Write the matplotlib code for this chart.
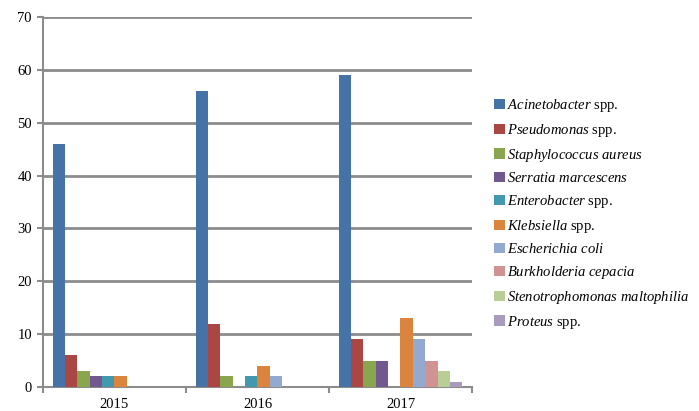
import matplotlib
matplotlib.use("Agg")
import matplotlib.pyplot as plt
import numpy as np

years = ["2015", "2016", "2017"]
species = ["Acinetobacter", "Pseudomonas", "Staphylococcus aureus", "Serratia marcescens",
           "Enterobacter", "Klebsiella", "Escherichia coli", "Burkholderia cepacia",
           "Stenotrophomonas maltophilia", "Proteus"]
spp = [True, True, False, False, True, True, False, False, False, True]
counts = [
    [46, 56, 59],
    [6, 12, 9],
    [3, 2, 5],
    [2, 0, 5],
    [2, 2, 0],
    [2, 4, 13],
    [0, 2, 9],
    [0, 0, 5],
    [0, 0, 3],
    [0, 0, 1],
]
colors = ["#4572A7", "#AA4643", "#89A54E", "#71588F", "#4198AF",
          "#DB843D", "#93A9CF", "#D19392", "#B9CD96", "#A99BBD"]

plt.rcParams['font.family'] = ['Liberation Serif', 'DejaVu Serif']
plt.rcParams['mathtext.fontset'] = 'custom'
plt.rcParams['mathtext.it'] = 'Liberation Serif:italic'
plt.rcParams['mathtext.rm'] = 'Liberation Serif'

fig = plt.figure(figsize=(6.99, 4.11), dpi=100)
ax = fig.add_axes([0.0615, 0.0584, 0.6137, 0.9002])

n = len(species)
gap = 1.55
width = 1.0 / (n + gap)
x = np.arange(len(years))
grid_c = "#8c8c8c"

handles = []
for i in range(n):
    offs = (i - (n - 1) / 2) * width
    b = ax.bar(x + offs, counts[i], width, color=colors[i], zorder=3, linewidth=0)
    handles.append(b)

labels = []
for name, s in zip(species, spp):
    lab = r"$\it{" + name.replace(" ", r"\ ") + "}$"
    if s:
        lab += " spp."
    labels.append(lab)

ax.set_xlim(-0.5, len(years) - 0.5)
ax.set_ylim(0, 70)
ax.set_yticks(np.arange(0, 71, 10))
ax.set_xticks(x)
ax.set_xticklabels(years)
ax.set_xticks(np.arange(-0.5, len(years), 1), minor=True)
ax.yaxis.grid(True, color=grid_c, linewidth=2, zorder=0)
ax.set_axisbelow(True)

for side in ["top", "right"]:
    ax.spines[side].set_visible(False)
for side in ["left", "bottom"]:
    ax.spines[side].set_color(grid_c)
    ax.spines[side].set_linewidth(1.5)
ax.tick_params(axis='y', length=4, color=grid_c, width=1.5, labelsize=10.5, pad=4)
ax.tick_params(axis='x', which='major', length=0, labelsize=10.5, pad=8)
ax.tick_params(axis='x', which='minor', length=4, color=grid_c, width=1.5)

fig.legend(handles, labels, loc='upper left', bbox_to_anchor=(0.699, 0.778),
           frameon=False, fontsize=10.5, handlelength=0.7, handleheight=0.7,
           handletextpad=0.15, labelspacing=0.53, borderaxespad=0)

fig.savefig("out.png", dpi=100)
